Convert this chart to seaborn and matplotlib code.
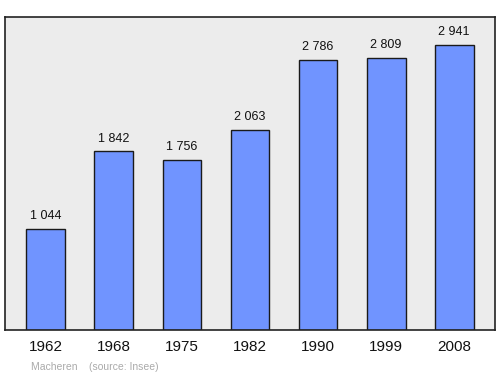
import matplotlib
matplotlib.use("Agg")
import matplotlib.pyplot as plt
import seaborn as sns
import pandas as pd

years = ["1962", "1968", "1975", "1982", "1990", "1999", "2008"]
population = [1044, 1842, 1756, 2063, 2786, 2809, 2941]
value_labels = ["1 044", "1 842", "1 756", "2 063", "2 786", "2 809", "2 941"]

sns.set_theme(style="white")
plt.rcParams['font.family'] = ['Liberation Sans', 'DejaVu Sans']

df = pd.DataFrame({"year": years, "pop": population})

fig = plt.figure(figsize=(5, 3.74), dpi=100)
ax = fig.add_axes([0.01, 0.1176, 0.98, 0.837])
ax.set_facecolor("#ececec")
sns.barplot(data=df, x="year", y="pop", color="#7094ff", saturation=1,
            width=0.57, edgecolor="#1a1a1a", linewidth=1, ax=ax)
ax.set_xlim(-0.6, 6.6)
ax.set_ylim(0, 3230)
ax.set_yticks([])
ax.set_xlabel("")
ax.set_ylabel("")
for s in ax.spines.values():
    s.set_color("#222222")
    s.set_linewidth(1.2)
ax.tick_params(axis="x", length=0, pad=7.5, labelsize=11, colors="#111111")
for i, (v, lab) in enumerate(zip(population, value_labels)):
    ax.annotate(lab, (i, v), xytext=(0, 5), textcoords="offset points",
                ha="center", va="bottom", fontsize=9, color="#111111")
fig.text(0.062, 0.012, "Macheren    (source: Insee)", fontsize=7.5, color="#aaaaaa")
fig.savefig("out.png", dpi=100)
